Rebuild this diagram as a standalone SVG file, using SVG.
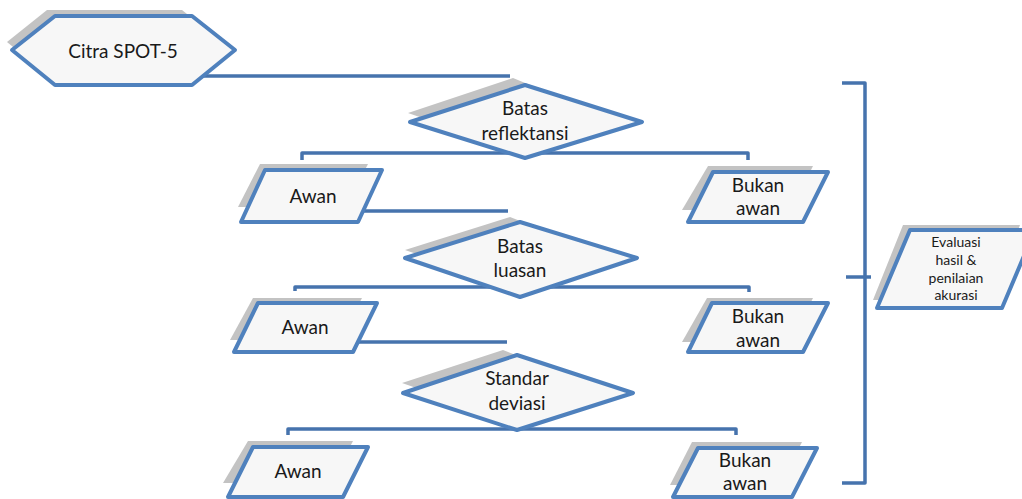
<svg xmlns="http://www.w3.org/2000/svg" width="1022" height="499" viewBox="0 0 1022 499">
<style>
.sh{fill:#c3c3c3;stroke:none}
.nd{fill:#f7f7f7;stroke:#4f81bd;stroke-width:4;stroke-linejoin:round}
.cn{fill:none;stroke:#4673ad;stroke-width:3.5;stroke-linejoin:round}
.t{font-family:Lato,"Open Sans","Liberation Sans",sans-serif;font-size:19px;fill:#1a1a1a;text-anchor:middle}
.ts{font-size:14px}
</style>
<rect width="1022" height="499" fill="#ffffff"/>
<g id="connectors">
<path class="cn" d="M200,76 H510"/>
<path class="cn" d="M302,160 V153 H748 V160"/>
<path class="cn" d="M355,211 H508"/>
<path class="cn" d="M295,291 V287 H749 V292"/>
<path class="cn" d="M350,342 H507"/>
<path class="cn" d="M288,435 V429 H736 V435"/>
<path class="cn" d="M842,83 H865 V483 H842"/>
<path class="cn" d="M846,277 H871"/>
</g>
<g id="citra">
<polygon class="sh" points="7,42 47,10 182,10 222,42 182,75 47,75"/>
<polygon class="nd" points="12,50 55,16 192,16 235,50 192,85 55,85"/>
<text class="t" x="123" y="58">Citra SPOT-5</text>
</g>
<g id="batas-reflektansi">
<polygon class="sh" points="408,113 513,78 620,122 515,150"/>
<polygon class="nd" points="410,122 525,85 642,122 525,158"/>
<text class="t" x="525" y="115">Batas</text>
<text class="t" x="525" y="140">reflektansi</text>
</g>
<g id="awan-1">
<polygon class="sh" points="260,164 368,164 346,207 238,207"/>
<polygon class="nd" points="265,170 382,170 358,222 241,222"/>
<text class="t" x="313" y="203">Awan</text>
</g>
<g id="bukan-awan-1">
<polygon class="sh" points="708,166 813,166 791,210 682,210"/>
<polygon class="nd" points="713,172 828,172 803,222 688,222"/>
<text class="t" x="758" y="192">Bukan</text>
<text class="t" x="758" y="215">awan</text>
</g>
<g id="batas-luasan">
<polygon class="sh" points="405,250 510,217 615,258 512,287"/>
<polygon class="nd" points="405,258 520,222 637,258 520,297"/>
<text class="t" x="520" y="253">Batas</text>
<text class="t" x="520" y="277">luasan</text>
</g>
<g id="awan-2">
<polygon class="sh" points="253,298 362,298 340,340 230,340"/>
<polygon class="nd" points="258,303 377,303 353,352 234,352"/>
<text class="t" x="305" y="334">Awan</text>
</g>
<g id="bukan-awan-2">
<polygon class="sh" points="707,298 813,298 791,342 682,342"/>
<polygon class="nd" points="712,303 828,303 803,352 688,352"/>
<text class="t" x="758" y="323">Bukan</text>
<text class="t" x="758" y="347">awan</text>
</g>
<g id="standar-deviasi">
<polygon class="sh" points="402,383 503,350 612,393 508,420"/>
<polygon class="nd" points="403,393 517,355 633,393 517,430"/>
<text class="t" x="517" y="385">Standar</text>
<text class="t" x="517" y="410">deviasi</text>
</g>
<g id="awan-3">
<polygon class="sh" points="248,441 353,441 331,483 223,483"/>
<polygon class="nd" points="253,447 368,447 343,497 228,497"/>
<text class="t" x="298" y="478">Awan</text>
</g>
<g id="bukan-awan-3">
<polygon class="sh" points="692,442 802,442 780,485 670,485"/>
<polygon class="nd" points="698,448 817,448 792,497 673,497"/>
<text class="t" x="745" y="467">Bukan</text>
<text class="t" x="745" y="490">awan</text>
</g>
<g id="evaluasi">
<polygon class="sh" points="903,225 1020,225 990,300 873,300"/>
<polygon class="nd" points="910,230 1035,230 1002,308 877,308"/>
<text class="t ts" x="956" y="247">Evaluasi</text>
<text class="t ts" x="956" y="265">hasil &amp;</text>
<text class="t ts" x="956" y="283">penilaian</text>
<text class="t ts" x="956" y="300">akurasi</text>
</g>
</svg>
